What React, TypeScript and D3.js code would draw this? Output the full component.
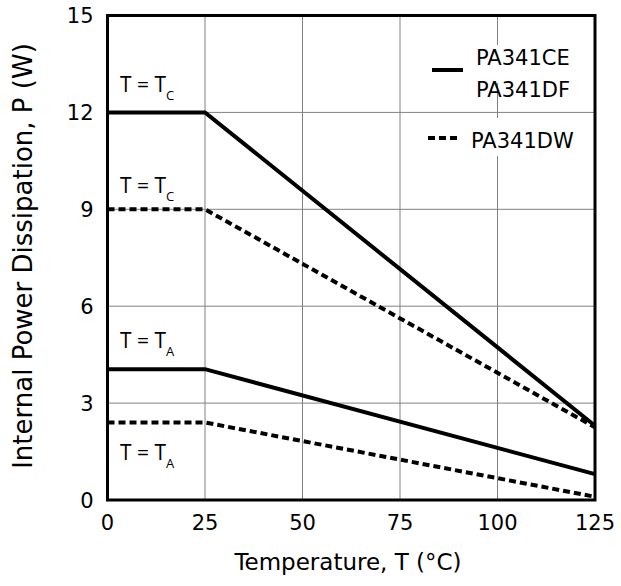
import { useEffect, useRef } from 'react';
import * as d3 from 'd3';

// temperature breakpoints (°C)
const temps = [0, 25, 125];
// series values (W) at each breakpoint
const ceTc = [12, 12, 2.3];
const dwTc = [9, 9, 2.25];
const ceTa = [4.05, 4.05, 0.8];
const dwTa = [2.4, 2.4, 0.1];

const xTicks = [0, 25, 50, 75, 100, 125];
const yTicks = [0, 3, 6, 9, 12, 15];

const font = "'DejaVu Sans', sans-serif";
const labelFont = "'Open Sans', sans-serif";

export default function App() {
  const svgRef = useRef<SVGSVGElement>(null);

  useEffect(() => {
    if (!svgRef.current) return;
    d3.select(svgRef.current).selectAll('*').remove();

    const left = 107.5, right = 595, top = 15.5, bottom = 500;
    const svg = d3.select(svgRef.current);

    const x = d3.scaleLinear().domain([0, 125]).range([left, right]);
    const y = d3.scaleLinear().domain([0, 15]).range([bottom, top]);

    // grid
    const grid = svg.append('g').attr('stroke', '#808080').attr('stroke-width', 1);
    grid.selectAll('.vx')
      .data(xTicks.slice(1, -1))
      .join('line')
      .attr('x1', d => x(d)).attr('x2', d => x(d))
      .attr('y1', top).attr('y2', bottom);
    grid.selectAll('.hy')
      .data(yTicks.slice(1, -1))
      .join('line')
      .attr('y1', d => y(d)).attr('y2', d => y(d))
      .attr('x1', left).attr('x2', right);

    // legend backgrounds hide gridline behind text
    svg.append('rect').attr('x', 470).attr('y', 45).attr('width', 118).attr('height', 38).attr('fill', '#fff');
    svg.append('rect').attr('x', 466).attr('y', 118).attr('width', 122).attr('height', 38).attr('fill', '#fff');

    const line = d3.line<number>()
      .x((_, i) => x(temps[i]))
      .y(d => y(d));

    const series = [
      { v: ceTc, dash: null },
      { v: dwTc, dash: '7,4' },
      { v: ceTa, dash: null },
      { v: dwTa, dash: '7,4' },
    ];
    svg.selectAll('.series')
      .data(series)
      .join('path')
      .attr('d', d => line(d.v))
      .attr('fill', 'none')
      .attr('stroke', '#000')
      .attr('stroke-width', 4)
      .attr('stroke-dasharray', d => d.dash);

    // frame
    svg.append('rect')
      .attr('x', left).attr('y', top)
      .attr('width', right - left).attr('height', bottom - top)
      .attr('fill', 'none').attr('stroke', '#000').attr('stroke-width', 3);

    // ticks
    svg.selectAll('.xt')
      .data(xTicks)
      .join('text')
      .attr('x', d => x(d)).attr('y', bottom + 30)
      .attr('text-anchor', 'middle')
      .attr('font-family', font).attr('font-size', 21)
      .text(d => d);
    svg.selectAll('.yt')
      .data(yTicks)
      .join('text')
      .attr('x', left - 14).attr('y', d => y(d) + 7.5)
      .attr('text-anchor', 'end')
      .attr('font-family', font).attr('font-size', 21)
      .text(d => d);

    // axis titles
    svg.append('text')
      .attr('x', 348).attr('y', 570)
      .attr('text-anchor', 'middle')
      .attr('font-family', font).attr('font-size', 23)
      .text('Temperature, T (°C)');
    svg.append('text')
      .attr('transform', `translate(32,256) rotate(-90)`)
      .attr('text-anchor', 'middle')
      .attr('font-family', font).attr('font-size', 26)
      .text('Internal Power Dissipation, P (W)');

    // condition labels
    const labels = [
      { y: 92, sub: 'C' },
      { y: 193, sub: 'C' },
      { y: 348, sub: 'A' },
      { y: 460, sub: 'A' },
    ];
    labels.forEach(l => {
      const t = svg.append('text')
        .attr('x', 120).attr('y', l.y)
        .attr('font-family', labelFont).attr('font-size', 21);
      t.append('tspan').text('T = T');
      t.append('tspan').attr('font-size', 13).attr('dy', 8).text(l.sub);
    });

    // legend
    svg.append('line')
      .attr('x1', 432).attr('x2', 463).attr('y1', 70).attr('y2', 70)
      .attr('stroke', '#000').attr('stroke-width', 4);
    svg.append('line')
      .attr('x1', 428).attr('x2', 461).attr('y1', 138).attr('y2', 138)
      .attr('stroke', '#000').attr('stroke-width', 4).attr('stroke-dasharray', '7,4');
    const leg = [
      { t: 'PA341CE', x: 476, y: 65 },
      { t: 'PA341DF', x: 476, y: 97 },
      { t: 'PA341DW', x: 471, y: 148 },
    ];
    svg.selectAll('.lt')
      .data(leg)
      .join('text')
      .attr('x', d => d.x).attr('y', d => d.y)
      .attr('font-family', font).attr('font-size', 21)
      .text(d => d.t);
  }, []);

  return <svg ref={svgRef} width={621} height={586} style={{ position: 'absolute', left: 0, top: 0 }} />;
}
